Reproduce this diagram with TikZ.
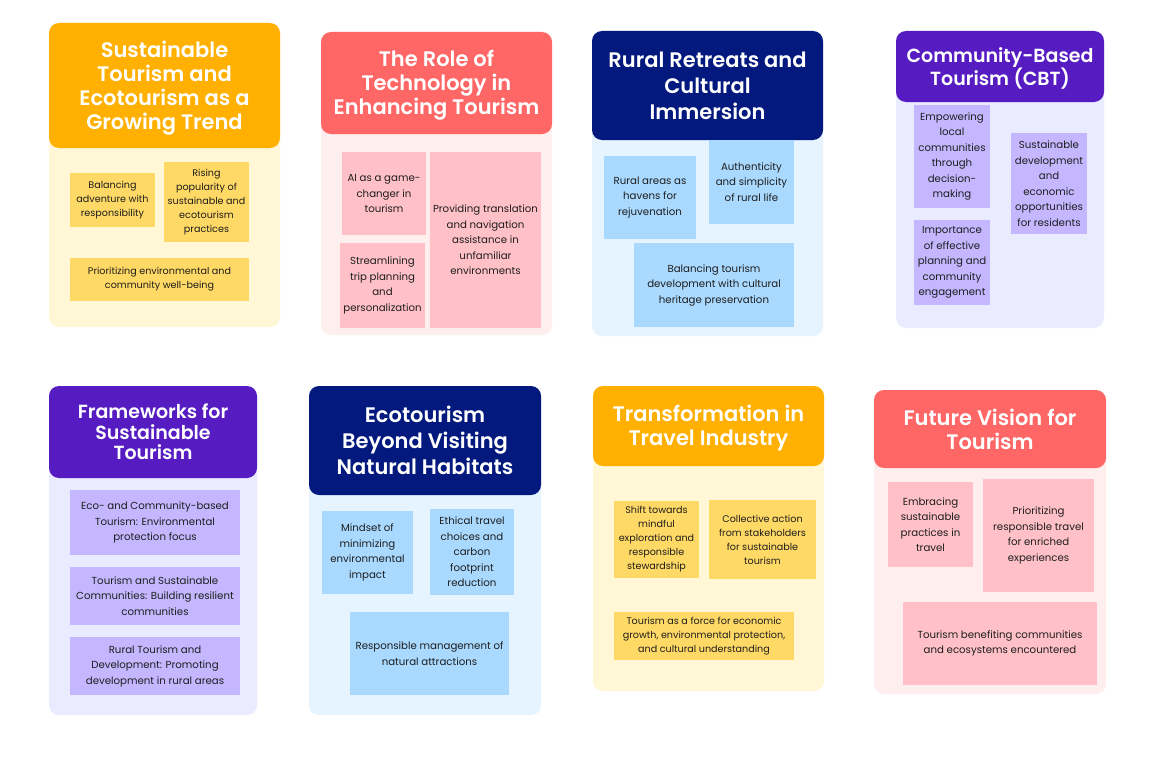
\documentclass[tikz,border=0pt]{standalone}
\usepackage{fontspec}
\setmainfont{Poppins}
\newfontfamily\ttlfont{Poppins}[UprightFont=* SemiBold]
\definecolor{orH}{HTML}{FFB000}
\definecolor{orB}{HTML}{FFF7D6}
\definecolor{orS}{HTML}{FFD965}
\definecolor{rdH}{HTML}{FF6666}
\definecolor{rdB}{HTML}{FFEEEE}
\definecolor{rdS}{HTML}{FFC1C7}
\definecolor{nvH}{HTML}{04197D}
\definecolor{nvB}{HTML}{E6F4FF}
\definecolor{nvS}{HTML}{A9D9FF}
\definecolor{puH}{HTML}{561CC2}
\definecolor{puB}{HTML}{EBEBFF}
\definecolor{puS}{HTML}{C4B7FF}
\definecolor{txt}{HTML}{1E1E1E}
\tikzset{
  cardbody/.style={rounded corners=10pt, inner sep=0pt, draw=none},
  hdr/.style={rounded corners=10pt, inner sep=0pt, draw=none},
  ttl/.style={inner sep=0pt, align=center, text=white},
  sub/.style={inner sep=0pt, align=center, text=txt, draw=none, font=\fontsize{10.2}{15.5}\selectfont},
  subt/.style={sub, font=\fontsize{9.6}{14}\selectfont},
  tA/.style={font=\ttlfont\fontsize{21}{24}\selectfont},
  tB/.style={font=\ttlfont\fontsize{21}{26}\selectfont},
  tC/.style={font=\ttlfont\fontsize{19}{20.5}\selectfont},
}
\begin{document}
\begin{tikzpicture}[x=1pt,y=-1pt]
\useasboundingbox[fill=white] (0,0) rectangle (1153,768);
% ---------- Card 1
\node[cardbody, fill=orB, minimum width=231pt, minimum height=304pt] (b1) at (164.5,175) {};
\node[hdr, fill=orH, minimum width=231pt, minimum height=125pt] (h1) at (164.5,85.5) {};
\node[ttl, tA] (t1) at ([yshift=-3pt]h1.center) {Sustainable\\Tourism and\\Ecotourism as a\\Growing Trend};
\node[subt, fill=orS, minimum width=85pt, minimum height=54pt] (s11) at (112.5,200) {Balancing\\adventure with\\responsibility};
\node[subt, fill=orS, minimum width=85pt, minimum height=80pt] (s12) at (206.5,202) {Rising\\popularity of\\sustainable and\\ecotourism\\practices};
\node[subt, fill=orS, minimum width=179pt, minimum height=43pt] (s13) at (159.5,279.5) {Prioritizing environmental and\\community well-being};
% ---------- Card 2
\node[cardbody, fill=rdB, minimum width=231pt, minimum height=303pt] (b2) at (436.5,183.5) {};
\node[hdr, fill=rdH, minimum width=231pt, minimum height=102pt] (h2) at (436.5,83) {};
\node[ttl, tA] (t2) at ([yshift=-2pt]h2.center) {The Role of\\Technology in\\Enhancing Tourism};
\node[sub, fill=rdS, minimum width=84pt, minimum height=83pt] (s21) at (384,193.5) {AI as a game-\\changer in\\tourism};
\node[sub, fill=rdS, minimum width=85pt, minimum height=85pt] (s22) at (382.5,285.5) {Streamlining\\trip planning\\and\\personalization};
\node[sub, fill=rdS, minimum width=111pt, minimum height=176pt] (s23) at (485.5,240) {Providing translation\\and navigation\\assistance in\\unfamiliar\\environments};
% ---------- Card 3
\node[cardbody, fill=nvB, minimum width=231pt, minimum height=305pt] (b3) at (707.5,183.5) {};
\node[hdr, fill=nvH, minimum width=231pt, minimum height=109pt] (h3) at (707.5,85.5) {};
\node[ttl, tB] (t3) at (h3.center) {Rural Retreats and\\Cultural\\Immersion};
\node[sub, fill=nvS, minimum width=92pt, minimum height=83pt] (s31) at (650,197.5) {Rural areas as\\havens for\\rejuvenation};
\node[sub, fill=nvS, minimum width=85pt, minimum height=84pt] (s32) at (751.5,182) {Authenticity\\and simplicity\\of rural life};
\node[sub, fill=nvS, minimum width=160pt, minimum height=84pt] (s33) at (714,285) {Balancing tourism\\development with cultural\\heritage preservation};
% ---------- Card 4
\node[cardbody, fill=puB, minimum width=208pt, minimum height=297pt] (b4) at (1000,179.5) {};
\node[hdr, fill=puH, minimum width=208pt, minimum height=71pt] (h4) at (1000,66.5) {};
\node[ttl, tC] (t4) at ([yshift=-2pt]h4.center) {Community-Based\\Tourism (CBT)};
\node[sub, fill=puS, minimum width=76pt, minimum height=103pt] (s41) at (952,156.5) {Empowering\\local\\communities\\through\\decision-\\making};
\node[sub, fill=puS, minimum width=76pt, minimum height=85pt] (s42) at (952,262.5) {Importance\\of effective\\planning and\\community\\engagement};
\node[sub, fill=puS, minimum width=76pt, minimum height=101pt] (s43) at (1049,183.5) {Sustainable\\development\\and\\economic\\opportunities\\for residents};
% ---------- Card 5
\node[cardbody, fill=puB, minimum width=208pt, minimum height=329pt] (b5) at (153,550.5) {};
\node[hdr, fill=puH, minimum width=208pt, minimum height=92pt] (h5) at (153,432) {};
\node[ttl, tC] (t5) at (h5.center) {Frameworks for\\Sustainable\\Tourism};
\node[sub, fill=puS, minimum width=170pt, minimum height=65pt] (s51) at (155,522.5) {Eco- and Community-based\\Tourism: Environmental\\protection focus};
\node[sub, fill=puS, minimum width=170pt, minimum height=58pt] (s52) at (155,596) {Tourism and Sustainable\\Communities: Building resilient\\communities};
\node[sub, fill=puS, minimum width=170pt, minimum height=58pt] (s53) at (155,666) {Rural Tourism and\\Development: Promoting\\development in rural areas};
% ---------- Card 6
\node[cardbody, fill=nvB, minimum width=232pt, minimum height=329pt] (b6) at (425,550.5) {};
\node[hdr, fill=nvH, minimum width=232pt, minimum height=109pt] (h6) at (425,440.5) {};
\node[ttl, tB] (t6) at (h6.center) {Ecotourism\\Beyond Visiting\\Natural Habitats};
\node[sub, fill=nvS, minimum width=91pt, minimum height=83pt] (s61) at (367.5,552.5) {Mindset of\\minimizing\\environmental\\impact};
\node[sub, fill=nvS, minimum width=84pt, minimum height=86pt] (s62) at (472,552) {Ethical travel\\choices and\\carbon\\footprint\\reduction};
\node[sub, fill=nvS, minimum width=159pt, minimum height=83pt] (s63) at (429.5,653.5) {Responsible management of\\natural attractions};
% ---------- Card 7
\node[cardbody, fill=orB, minimum width=231pt, minimum height=305pt] (b7) at (708.5,538.5) {};
\node[hdr, fill=orH, minimum width=231pt, minimum height=80pt] (h7) at (708.5,426) {};
\node[ttl, tA] (t7) at ([yshift=-2pt]h7.center) {Transformation in\\Travel Industry};
\node[subt, fill=orS, minimum width=85pt, minimum height=77pt] (s71) at (656.5,539.5) {Shift towards\\mindful\\exploration and\\responsible\\stewardship};
\node[subt, fill=orS, minimum width=107pt, minimum height=79pt] (s72) at (762.5,539.5) {Collective action\\from stakeholders\\for sustainable\\tourism};
\node[subt, fill=orS, minimum width=180pt, minimum height=48pt] (s73) at (704,636) {Tourism as a force for economic\\growth, environmental protection,\\and cultural understanding};
% ---------- Card 8
\node[cardbody, fill=rdB, minimum width=232pt, minimum height=304pt] (b8) at (990,542) {};
\node[hdr, fill=rdH, minimum width=232pt, minimum height=78pt] (h8) at (990,429) {};
\node[ttl, tA] (t8) at (h8.center) {Future Vision for\\Tourism};
\node[sub, fill=rdS, minimum width=85pt, minimum height=85pt] (s81) at (930.5,524.5) {Embracing\\sustainable\\practices in\\travel};
\node[sub, fill=rdS, minimum width=111pt, minimum height=113pt] (s82) at (1038.5,535.5) {Prioritizing\\responsible travel\\for enriched\\experiences};
\node[sub, fill=rdS, minimum width=194pt, minimum height=83pt] (s83) at (1000,643.5) {Tourism benefiting communities\\and ecosystems encountered};
\end{tikzpicture}
\end{document}
